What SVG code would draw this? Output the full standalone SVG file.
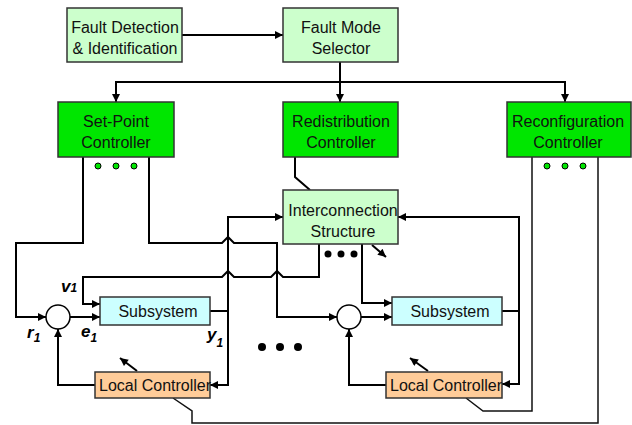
<svg xmlns="http://www.w3.org/2000/svg" width="632" height="425" viewBox="0 0 632 425">
  <defs>
    <marker id="arrow" viewBox="0 0 10 10" refX="10" refY="5" markerWidth="9" markerHeight="8" markerUnits="userSpaceOnUse" orient="auto">
      <path d="M0,0 L10,5 L0,10 z" fill="#000"/>
    </marker>
    <style>
      .box { stroke: #333; stroke-width: 1.5; }
      .pale { fill: #ccffcc; }
      .ctrl { fill: #00e600; }
      .plant { fill: #ccffff; }
      .local { fill: #ffcc99; }
      .sum { fill: #fff; stroke: #000; stroke-width: 1.5; }
      .lbl { font-family: "Liberation Sans", Arial, sans-serif; font-size: 16px; fill: #111; text-anchor: middle; }
      .sig { font-family: "Liberation Sans", Arial, sans-serif; font-size: 17px; font-weight: bold; font-style: italic; fill: #000; }
      .sub { font-size: 12px; }
      .wire { fill: none; stroke: #000; stroke-width: 2; }
      .thin { fill: none; stroke: #111; stroke-width: 1.5; }
      .arr { marker-end: url(#arrow); }
      .gdot { fill: #00e600; stroke: #000; stroke-width: 1; }
      .kdot { fill: #000; }
    </style>
  </defs>

  <rect width="632" height="425" fill="#fff"/>

  <!-- connectors -->
  <g id="connectors">
    <path class="wire arr" d="M182,35 H283"/>
    <path class="wire arr" d="M340,62 V102"/>
    <path class="wire arr" d="M340,82 H116 V102"/>
    <path class="wire arr" d="M340,82 H565 V102"/>

    <!-- set-point controller outputs -->
    <path class="wire arr" d="M83,157 V243 H16 V317 H46"/>
    <path class="wire arr" d="M149,157 V243 H222 L228,237 L234,243 H277 V317 H337"/>

    <!-- interconnection output v1 -->
    <path class="wire arr" d="M319,244 V277 H283 L277,271 L271,277 H234 L228,271 L222,277 H83 V304 H100"/>

    <!-- subsystem 1 loop -->
    <path class="wire arr" d="M70,317 H100"/>
    <path class="wire" d="M210,311 H228"/>
    <path class="wire arr" d="M228,311 V217 H283"/>
    <path class="wire arr" d="M228,311 V385 H210"/>
    <path class="wire arr" d="M95,385 H58 V329"/>
    <path class="wire arr" d="M137,371 L120,358"/>

    <!-- redistribution to interconnection -->
    <path class="wire" d="M295,157 V177 L310,190"/>
    <path class="wire arr" d="M372,245 L386,257"/>

    <!-- subsystem 2 loop -->
    <path class="wire arr" d="M362,244 V303 H392"/>
    <path class="wire arr" d="M361,317 H392"/>
    <path class="wire" d="M502,311 H519"/>
    <path class="wire arr" d="M519,311 V217 H398"/>
    <path class="wire arr" d="M519,311 V384 H502"/>
    <path class="wire arr" d="M386,385 H349 V329"/>
    <path class="wire arr" d="M428,371 L410,358"/>

    <!-- reconfiguration controller links -->
    <path class="thin" d="M173,398 L192,411 V423 H598 V157"/>
    <path class="thin" d="M466,398 L483,411 H532 V157"/>
  </g>

  <g id="fdi">
    <rect class="box pale" x="67" y="8" width="115" height="54"/>
    <text class="lbl" x="125" y="33">Fault Detection</text>
    <text class="lbl" x="125" y="54">&amp; Identification</text>
  </g>

  <g id="fms">
    <rect class="box pale" x="283" y="8" width="115" height="54"/>
    <text class="lbl" x="341" y="33">Fault Mode</text>
    <text class="lbl" x="341" y="54">Selector</text>
  </g>

  <g id="setpoint">
    <rect class="box ctrl" x="58" y="102" width="116" height="55"/>
    <text class="lbl" x="116" y="127">Set-Point</text>
    <text class="lbl" x="116" y="148">Controller</text>
    <circle class="gdot" cx="98" cy="166" r="3"/>
    <circle class="gdot" cx="116" cy="166" r="3"/>
    <circle class="gdot" cx="134" cy="166" r="3"/>
  </g>

  <g id="redistribution">
    <rect class="box ctrl" x="283" y="102" width="115" height="55"/>
    <text class="lbl" x="341" y="127">Redistribution</text>
    <text class="lbl" x="341" y="148">Controller</text>
  </g>

  <g id="reconfiguration">
    <rect class="box ctrl" x="507" y="102" width="124" height="55"/>
    <text class="lbl" x="568" y="127">Reconfiguration</text>
    <text class="lbl" x="568" y="148">Controller</text>
    <circle class="gdot" cx="547" cy="166" r="3"/>
    <circle class="gdot" cx="565" cy="166" r="3"/>
    <circle class="gdot" cx="583" cy="166" r="3"/>
  </g>

  <g id="interconnection">
    <rect class="box pale" x="283" y="190" width="115" height="54"/>
    <text class="lbl" x="343" y="216">Interconnection</text>
    <text class="lbl" x="343" y="237">Structure</text>
    <circle class="kdot" cx="328" cy="254" r="3.5"/>
    <circle class="kdot" cx="341" cy="254" r="3.5"/>
    <circle class="kdot" cx="354" cy="254" r="3.5"/>
  </g>

  <g id="sum1">
    <circle class="sum" cx="58" cy="317" r="12"/>
  </g>

  <g id="sum2">
    <circle class="sum" cx="349" cy="317" r="12"/>
  </g>

  <g id="subsystem1">
    <rect class="box plant" x="100" y="297" width="110" height="28"/>
    <text class="lbl" x="158" y="317">Subsystem</text>
  </g>

  <g id="subsystem2">
    <rect class="box plant" x="392" y="297" width="110" height="28"/>
    <text class="lbl" x="450" y="317">Subsystem</text>
  </g>

  <g id="local1">
    <rect class="box local" x="95" y="372" width="115" height="26"/>
    <text class="lbl" x="99" y="391" style="text-anchor:start">Local Controller</text>
  </g>

  <g id="local2">
    <rect class="box local" x="386" y="372" width="116" height="26"/>
    <text class="lbl" x="390" y="391" style="text-anchor:start">Local Controller</text>
  </g>

  <!-- more subsystems -->
  <g id="ellipsis">
    <circle class="kdot" cx="262" cy="347" r="4"/>
    <circle class="kdot" cx="280" cy="347" r="4"/>
    <circle class="kdot" cx="298" cy="347" r="4"/>
  </g>

  <!-- signal labels -->
  <g id="signals">
    <text class="sig" x="27" y="338">r<tspan class="sub" dy="4">1</tspan></text>
    <text class="sig" x="81" y="337">e<tspan class="sub" dy="5">1</tspan></text>
    <text class="sig" x="61" y="292">v<tspan class="sub">1</tspan></text>
    <text class="sig" x="207" y="340">y<tspan class="sub" dy="7">1</tspan></text>
  </g>
</svg>
